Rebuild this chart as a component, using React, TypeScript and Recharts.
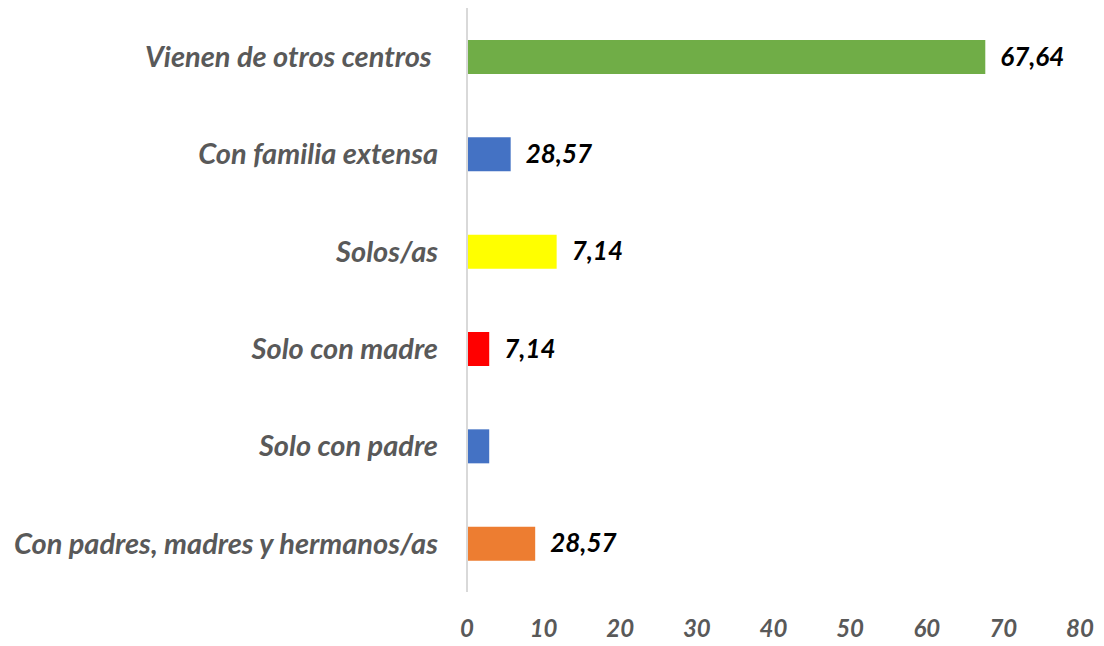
import { BarChart, Bar, XAxis, YAxis, Cell, LabelList } from 'recharts';

const categories = [
  'Vienen de otros centros ',
  'Con familia extensa',
  'Solos/as',
  'Solo con madre',
  'Solo con padre',
  'Con padres, madres y hermanos/as',
];
// bar lengths as drawn in the picture
const barValues = [67.64, 5.7, 11.7, 2.9, 2.9, 8.9];
// the data labels printed next to each bar
const valueLabels = ['67,64', '28,57', '7,14', '7,14', '', '28,57'];
const barColors = ['#70ad47', '#4472c4', '#ffff00', '#ff0000', '#4472c4', '#ed7d31'];
const xTicks = [0, 10, 20, 30, 40, 50, 60, 70, 80];

const data = categories.map((name, i) => ({ name, value: barValues[i], label: valueLabels[i] }));

const FONT = 'Lato, "Open Sans", sans-serif';

function ValueLabel(props: any) {
  const { x, y, width, height, index } = props;
  const text = valueLabels[index];
  if (!text) return null;
  return (
    <text x={x + width + 15} y={y + height / 2 + 2} dominantBaseline="middle"
      fontFamily={FONT} fontSize={26} fontWeight={700} fontStyle="italic" fill="#000">
      {text}
    </text>
  );
}

function CategoryTick(props: any) {
  const { x, y, payload } = props;
  return (
    <text x={x} y={y} dy="0.355em" textAnchor="end" style={{ whiteSpace: 'pre' }}
      fontFamily={FONT} fontSize={29} fontWeight={700} fontStyle="italic" fill="#595959">
      {payload.value}
    </text>
  );
}

export default function App() {
  return (
    <div style={{ position: 'absolute', left: 0, top: 0, width: 1104, height: 646, background: '#fff' }}>
      <BarChart width={1104} height={646} data={data} layout="vertical"
        margin={{ top: 8, right: 24, left: 0, bottom: 0 }}>
        <XAxis type="number" domain={[0, 80]} ticks={xTicks} axisLine={false} tickLine={false}
          height={54} tickMargin={22}
          tick={{ fontSize: 24, fill: '#595959', fontFamily: FONT, fontWeight: 700, fontStyle: 'italic' }} />
        <YAxis type="category" dataKey="name" width={467} axisLine={{ stroke: '#d9d9d9', strokeWidth: 2 }}
          tickLine={false} tickMargin={23} tick={<CategoryTick />} />
        <Bar dataKey="value" barSize={34} isAnimationActive={false}>
          {data.map((d, i) => (
            <Cell key={d.name} fill={barColors[i]} />
          ))}
          <LabelList dataKey="label" content={<ValueLabel />} />
        </Bar>
      </BarChart>
    </div>
  );
}
